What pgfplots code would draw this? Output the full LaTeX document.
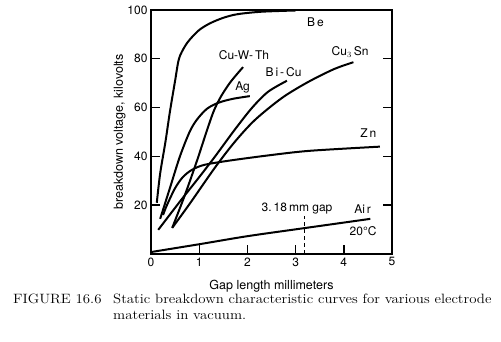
\documentclass[border=0pt]{standalone}
\usepackage{fontspec}
\usepackage{pgfplots}
\pgfplotsset{compat=1.18}
\newfontfamily\hv{TeX Gyre Heros}
\newfontfamily\capfont[FakeStretch=1.1]{Latin Modern Roman}
\begin{document}
\begin{tikzpicture}[x=1pt,y=1pt]
\useasboundingbox (0,0) rectangle (501,342);
\begin{axis}[
  at={(151pt,88pt)}, anchor=south west,
  scale only axis, width=241pt, height=244pt,
  xmin=0, xmax=5, ymin=0, ymax=100,
  xtick={0,1,2,3,4,5}, ytick={20,40,60,80,100},
  xtick pos=bottom, ytick pos=both, yticklabel pos=left,
  tick align=inside, major tick length=9pt,
  axis line style={line width=1.6pt},
  every tick/.style={line width=1.4pt, black},
  /pgf/number format/assume math mode=true,
  tick label style={font=\hv\fontsize{12}{14}\selectfont},
  xlabel={Gap length millimeters},
  ylabel={breakdown voltage, kilovolts},
  label style={font=\hv\fontsize{12.5}{14}\selectfont},
  xlabel style={yshift=-7pt},
  ylabel style={yshift=-5pt},
  curve/.style={line width=2pt, black, solid, no marks, smooth},
  clip=false,
]
% Be
\addplot[curve] coordinates {(0.12,21) (0.19,33) (0.3,46) (0.39,58) (0.5,71) (0.58,80) (0.7,85) (0.81,88) (1.0,91.8) (1.22,94.5) (1.5,96.8) (1.8,98.3) (2.3,99.3) (3.0,99.8)};
% Ag
\addplot[curve] coordinates {(0.19,14.4) (0.4,27.5) (0.6,40) (0.8,50) (0.95,55) (1.16,59.5) (1.4,62) (1.7,63.6) (2.05,64.7)};
% Cu-W-Th
\addplot[curve] coordinates {(0.44,10.7) (0.7,24) (0.95,38) (1.15,50) (1.3,58.5) (1.45,64.5) (1.65,70.5) (1.91,76.6)};
% Bi-Cu
\addplot[curve] coordinates {(0.15,9.9) (0.6,21.5) (1.0,31.5) (1.33,40) (1.74,51) (2.1,60) (2.43,66.5) (2.82,71)};
% Cu3Sn
\addplot[curve] coordinates {(0.44,10.7) (0.8,20.5) (1.33,35.5) (1.74,46) (2.16,55) (2.72,64) (3.26,70.5) (3.8,75.8) (4.2,78.6)};
% Zn
\addplot[curve] coordinates {(0.25,16) (0.33,20) (0.5,27) (0.66,31.5) (0.85,34.5) (1.1,36.5) (1.6,38.2) (2.47,40.5) (3.3,42.3) (4.75,44)};
% Air
\addplot[curve] coordinates {(0,0.8) (1,4) (2,7.3) (3.18,10.6) (4.55,14.4)};
% 3.18 mm gap
\addplot[black, line width=1.4pt, dash pattern=on 4pt off 3pt] coordinates {(3.18,0) (3.18,15.5)};
\begin{scope}[every node/.style={font=\hv\fontsize{12}{14}\selectfont, inner sep=0pt}]
\node at (axis cs:3.41,95) {B\,e};
\node at (axis cs:1.93,81.5) {Cu-W-\,Th};
\node at (axis cs:1.9,68.3) {Ag};
\node at (axis cs:2.75,74.5) {B\,i\,-\,Cu};
\node at (axis cs:4.13,82.7) {Cu$_3$\,Sn};
\node at (axis cs:4.51,49.4) {Z\,n};
\node at (axis cs:3.03,18.5) {3.\,18\,mm gap};
\node at (axis cs:4.39,18.5) {Ai\,r};
\node at (axis cs:4.4,9.5) {20°C};
\end{scope}
\end{axis}
\begin{scope}[every node/.style={font=\capfont\fontsize{13.5}{16}\selectfont, inner sep=0pt, anchor=base west}]
\node at (13,38) {FIGURE 16.6};
\node at (113,38) {Static breakdown characteristic curves for various electrode};
\node at (113,22) {materials in vacuum.};
\end{scope}
\end{tikzpicture}
\end{document}
